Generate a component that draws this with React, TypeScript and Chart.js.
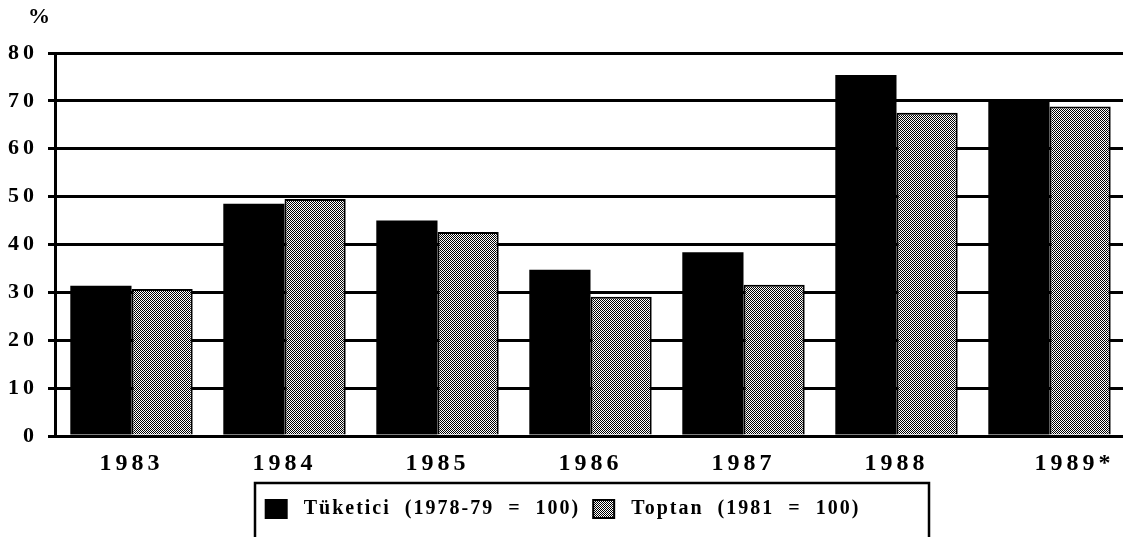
import React, { useEffect, useRef } from 'react';
import { Chart, registerables } from 'chart.js';

Chart.register(...registerables);

const YEARS = ['1983', '1984', '1985', '1986', '1987', '1988', '1989*'];
const TUKETICI = [31.4, 48.5, 45.0, 34.7, 38.4, 75.4, 69.8];
const TOPTAN = [30.7, 49.5, 42.6, 29.1, 31.6, 67.5, 68.8];
const SERIES_LABELS = ['Tüketici  (1978-79  =  100)', 'Toptan  (1981  =  100)'];
const Y_MIN = 0;
const Y_MAX = 80;
const Y_STEP = 10;
const UNIT = '%';

const FONT = "'Liberation Serif', 'Times New Roman', serif";

function makePattern(ctx: CanvasRenderingContext2D): CanvasPattern | string {
  const tile = document.createElement('canvas');
  tile.width = 4;
  tile.height = 4;
  const t = tile.getContext('2d');
  if (!t) return '#999';
  t.fillStyle = '#ffffff';
  t.fillRect(0, 0, 4, 4);
  t.fillStyle = '#000000';
  for (let x = 0; x < 4; x++) {
    for (let y = 0; y < 4; y++) {
      if ((x + y) % 2 === 0) t.fillRect(x, y, 1, 1);
    }
  }
  return ctx.createPattern(tile, 'repeat') || '#999';
}

const spacingPlugin = {
  id: 'spacing',
  beforeLayout(chart: any) {
    chart.ctx.letterSpacing = '2px';
  },
  beforeDraw(chart: any) {
    chart.ctx.letterSpacing = '2px';
  },
  afterDatasetsDraw(chart: any) {
    chart.ctx.letterSpacing = '4px';
  },
};

const decorPlugin = {
  id: 'decor',
  afterDraw(chart: any) {
    const { ctx, chartArea, legend } = chart;
    ctx.save();
    ctx.letterSpacing = '0px';
    ctx.fillStyle = '#000';
    ctx.font = `bold 22px ${FONT}`;
    ctx.textBaseline = 'alphabetic';
    ctx.textAlign = 'left';
    ctx.fillText(UNIT, chartArea.left - 27, chartArea.top - 30);
    if (legend) {
      ctx.strokeStyle = '#000';
      ctx.lineWidth = 2.5;
      ctx.strokeRect(chartArea.left + 200, legend.top - 3, 674, 56);
    }
    ctx.restore();
  },
};

export default function App() {
  const ref = useRef<HTMLCanvasElement | null>(null);

  useEffect(() => {
    const canvas = ref.current;
    if (!canvas) return;
    const ctx = canvas.getContext('2d');
    if (!ctx) return;
    const pattern = makePattern(ctx);

    const chart = new Chart(canvas, {
      type: 'bar',
      data: {
        labels: YEARS,
        datasets: [
          {
            label: SERIES_LABELS[0],
            data: TUKETICI,
            backgroundColor: '#000000',
            borderColor: '#000000',
            borderWidth: 0,
          },
          {
            label: SERIES_LABELS[1],
            data: TOPTAN,
            backgroundColor: pattern as any,
            borderColor: '#000000',
            borderWidth: 2,
          },
        ],
      },
      options: {
        responsive: false,
        animation: false,
        devicePixelRatio: 1,
        layout: { padding: { left: 0, right: 14, top: 53, bottom: 8 } },
        datasets: {
          bar: { categoryPercentage: 0.8, barPercentage: 1.0 },
        },
        plugins: {
          tooltip: { enabled: false },
          legend: {
            position: 'bottom',
            labels: {
              color: '#000',
              font: { family: FONT, size: 20, weight: 'bold' },
              boxWidth: 21,
              boxHeight: 18,
              padding: 13,
              generateLabels(chart: any) {
                const items = (Chart.defaults.plugins.legend.labels as any).generateLabels(chart);
                return items.map((it: any) => ({ ...it, text: ' ' + it.text, lineWidth: 2, strokeStyle: '#000' }));
              },
            },
          },
        },
        scales: {
          x: {
            grid: { display: false },
            border: { display: true, color: '#000', width: 3 },
            ticks: {
              z: 1,
              color: '#000',
              font: { family: FONT, size: 24, weight: 'bold' },
              padding: 5,
              maxRotation: 0,
              autoSkip: false,
              callback(_v: any, i: number) {
                const label = YEARS[i];
                return label.endsWith('*') ? '     ' + label : label;
              },
            },
            afterFit(scale: any) {
              scale.height = 50;
            },
          },
          y: {
            min: Y_MIN,
            max: Y_MAX,
            grid: { color: '#000', lineWidth: 3, tickLength: 7, drawTicks: true },
            border: { display: true, color: '#000', width: 3 },
            ticks: {
              z: 1,
              stepSize: Y_STEP,
              color: '#000',
              font: { family: FONT, size: 22, weight: 'bold' },
              padding: 10,
            },
            afterFit(scale: any) {
              scale.width = 55;
            },
          },
        },
      } as any,
      plugins: [spacingPlugin, decorPlugin],
    });

    return () => chart.destroy();
  }, []);

  return (
    <div
      style={{
        position: 'fixed',
        left: 0,
        top: 0,
        width: 1123,
        height: 537,
        overflow: 'hidden',
        background: '#fff',
      }}
    >
      <canvas ref={ref} width={1140} height={537} style={{ display: 'block', width: 1140, height: 537 }} />
    </div>
  );
}
